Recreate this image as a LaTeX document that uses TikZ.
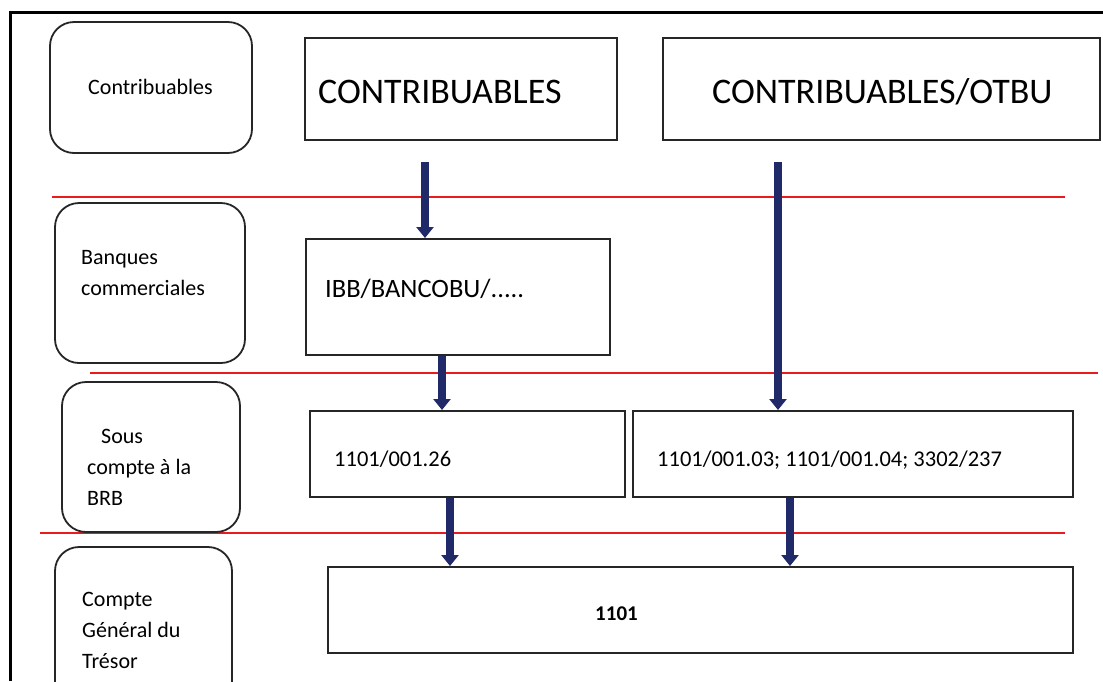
\documentclass[tikz,border=0pt]{standalone}
\usepackage{fontspec}
\setmainfont{Carlito}
\usetikzlibrary{arrows.meta}
\definecolor{navy}{RGB}{32,42,105}
\definecolor{redline}{RGB}{232,28,28}
\tikzset{
  lbox/.style={draw=black!85, line width=1.8pt, rounded corners=24pt, inner sep=0pt},
  rbox/.style={draw=black!85, line width=2pt, inner sep=0pt},
  lab/.style={anchor=base west, inner sep=0pt, font=\fontsize{22}{31}\selectfont, align=left},
  big/.style={anchor=base west, inner sep=0pt, font=\fontsize{36}{40}\selectfont},
  acct/.style={anchor=base west, inner sep=0pt, font=\fontsize{22.5}{26}\selectfont},
  sep/.style={draw=redline, line width=2.6pt},
  flow/.style={draw=navy, line width=7.5pt, -{Triangle[width=17pt,length=11pt]}},
  frame/.style={draw=black, line width=3pt}
}
\begin{document}
\begin{tikzpicture}[x=1pt,y=-1pt]
\clip (0,0) rectangle (1103,681);
\fill[white] (0,0) rectangle (1103,681);
% frame
\coordinate (f0) at (10,681);
\coordinate (f1) at (10,12);
\coordinate (f2) at (1103,12);
\draw[frame] (f0) -- (f1) -- (f2);
% red separators
\coordinate (r1a) at (52,197); \coordinate (r1b) at (1065,197);
\coordinate (r2a) at (90,373); \coordinate (r2b) at (1098,373);
\coordinate (r3a) at (40,533); \coordinate (r3b) at (1065,533);
\draw[sep] (r1a) -- (r1b);
\draw[sep] (r2a) -- (r2b);
\draw[sep] (r3a) -- (r3b);
% left rounded boxes
\node[lbox, minimum width=202pt, minimum height=131pt] (l1) at (151,87.5) {};
\node[lbox, minimum width=190pt, minimum height=160pt] (l2) at (150,283) {};
\node[lbox, minimum width=178pt, minimum height=150pt] (l3) at (151,457) {};
\node[lbox, minimum width=177pt, minimum height=160pt] (l4) at (143.5,627) {};
\node[lab] (t1) at (88,94) {Contribuables};
\node[lab] (t2) at (81,295) {Banques\\commerciales};
\node[lab] (t3) at (87,505) {\hspace{14pt}Sous\\compte à la\\BRB};
\node[lab] (t4) at (82,668) {Compte\\Général du\\Trésor};
% right boxes
\node[rbox, minimum width=312pt, minimum height=102pt] (a) at (461,89) {};
\node[rbox, minimum width=437pt, minimum height=102pt] (b) at (881.5,89) {};
\node[big] (ta) at (318,103) {CONTRIBUABLES};
\node[big] (tb) at (712,103) {CONTRIBUABLES/OTBU};
\node[rbox, minimum width=304pt, minimum height=116pt] (ibb) at (458,297) {};
\node[acct, font=\fontsize{26.5}{30}\selectfont] (tibb) at (325,297) {IBB/BANCOBU/.....};
\node[rbox, minimum width=315pt, minimum height=86pt] (s1) at (467.5,454) {};
\node[rbox, minimum width=440pt, minimum height=86pt] (s2) at (853,454) {};
\node[acct] (ts1) at (334,466) {1101/001.26};
\node[acct] (ts2) at (657,466) {1101/001.03; 1101/001.04; 3302/237};
\node[rbox, minimum width=745pt, minimum height=86pt] (m) at (700.5,610) {};
\node[acct, font=\bfseries\fontsize{21}{26}\selectfont] (tm) at (595,620) {1101};
% arrows
\coordinate (p1) at (425,162);
\coordinate (p2) at (778,162);
\draw[flow] (p1) -- (p1 |- ibb.north);
\draw[flow] (p2) -- (p2 |- s2.north);
\coordinate (p3) at (442,0);
\draw[flow] (p3 |- ibb.south) -- (p3 |- s1.north);
\coordinate (p4) at (450,0);
\draw[flow] (p4 |- s1.south) -- (p4 |- m.north);
\coordinate (p5) at (790,0);
\draw[flow] (p5 |- s2.south) -- (p5 |- m.north);
\end{tikzpicture}
\end{document}
